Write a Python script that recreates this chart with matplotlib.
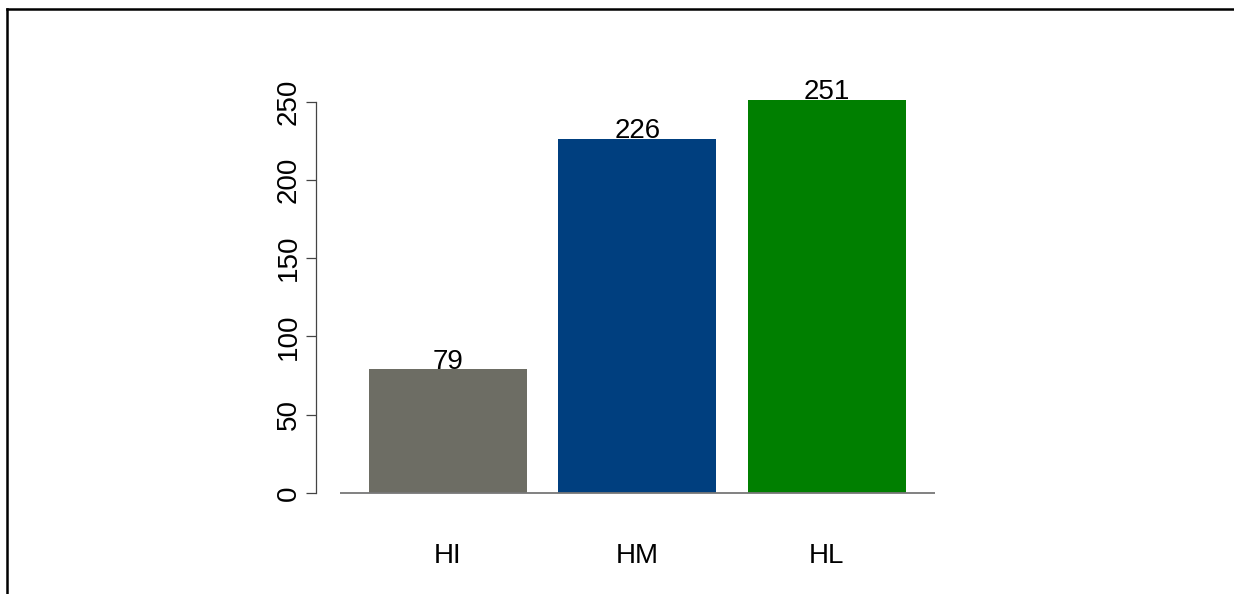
import matplotlib
matplotlib.use("Agg")
import matplotlib.pyplot as plt
from matplotlib.lines import Line2D

plt.rcParams["font.family"] = ["Liberation Sans", "DejaVu Sans"]

categories = ["HI", "HM", "HL"]
counts = [79, 226, 251]
bar_colors = ["#6d6d64", "#003f7f", "#007f00"]
y_ticks = [0, 50, 100, 150, 200, 250]

W, H = 1234, 594
fig = plt.figure(figsize=(W / 100, H / 100), dpi=100)

# axes box: y axis at x=316px, baseline (0) at y=493px
ax = fig.add_axes([316 / W, (H - 493) / H, (935 - 316) / W, (493 - 86) / H])

# R-style barplot positions: width 1, space 0.2
centers = [0.7 + 1.2 * i for i in range(len(counts))]
ax.bar(centers, counts, width=1.0, color=bar_colors, edgecolor="none")
ax.set_xlim(-0.136, 3.785)
ax.set_ylim(0, 260)

ax.hlines(0, 0.016, 3.785, color="#777777", lw=1.3, clip_on=False, zorder=3)

for x, v in zip(centers, counts):
    ax.text(x, v + 0.5, str(v), ha="center", va="baseline", fontsize=20)

for x, lab in zip(centers, categories):
    ax.text(x, -44.5, lab, ha="center", va="baseline", fontsize=20, clip_on=False)

for side in ("top", "right", "bottom"):
    ax.spines[side].set_visible(False)
ax.spines["left"].set_bounds(0, 250)
ax.spines["left"].set_color("#444444")
ax.spines["left"].set_linewidth(0.9)
ax.set_xticks([])
ax.set_yticks(y_ticks)
ax.set_yticklabels([str(t) for t in y_ticks], rotation=90, va="center", fontsize=20)
ax.tick_params(axis="y", length=7, width=0.9, color="#444444", pad=3.5)

# frame lines along left and top of the image
fig.add_artist(Line2D([7 / W, 7 / W], [0, (H - 9) / H], color="black", lw=1.8,
                      solid_capstyle="projecting", transform=fig.transFigure))
fig.add_artist(Line2D([7 / W, 1], [(H - 9) / H, (H - 9) / H], color="black", lw=1.8,
                      solid_capstyle="projecting", transform=fig.transFigure))

fig.savefig("out.png", dpi=100, facecolor="white")
